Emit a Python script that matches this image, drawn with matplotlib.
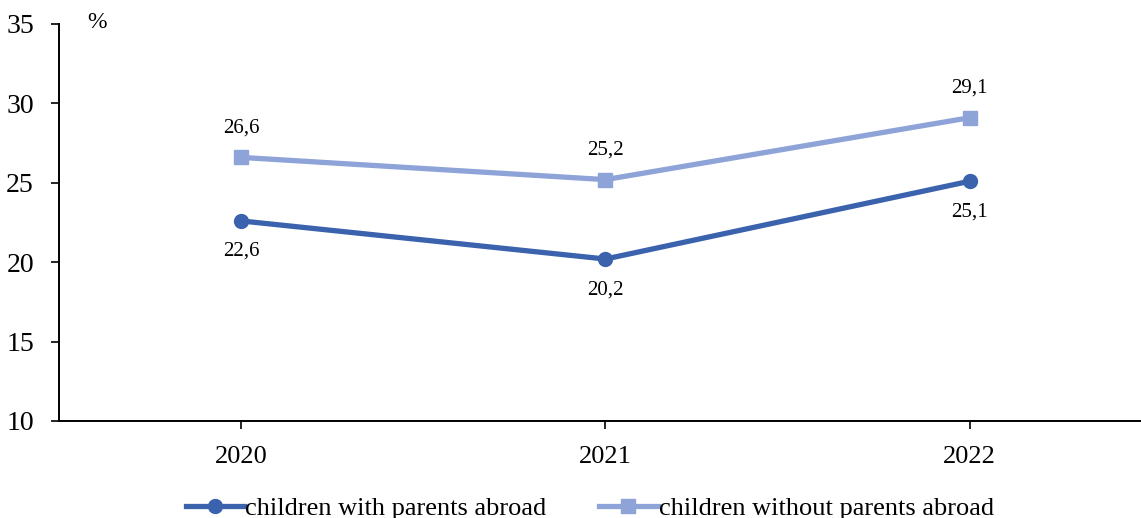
import matplotlib
matplotlib.use('Agg')
import matplotlib.pyplot as plt

# Datos del gráfico
years = ['2020', '2021', '2022']
with_parents_abroad = [22.6, 20.2, 25.1]
without_parents_abroad = [26.6, 25.2, 29.1]
labels_with = ['22,6', '20,2', '25,1']
labels_without = ['26,6', '25,2', '29,1']

plt.rcParams['font.family'] = ['Liberation Serif', 'DejaVu Serif']

dark = '#3A62AD'
light = '#8EA3D7'

fig = plt.figure(figsize=(11.41, 5.18), dpi=100)
ax = fig.add_axes([59 / 1141, 97 / 518, 1 - 59 / 1141, (421 - 24) / 518])

x = range(len(years))
ax.plot(x, with_parents_abroad, color=dark, linewidth=3.8, marker='o', markersize=10,
        label='children with parents abroad')
ax.plot(x, without_parents_abroad, color=light, linewidth=3.8, marker='s', markersize=10,
        label='children without parents abroad')

# Etiquetas de datos
for i in x:
    ax.annotate(labels_with[i], (i, with_parents_abroad[i]), xytext=(0, -22),
                textcoords='offset points', ha='center', va='center', fontsize=15)
    ax.annotate(labels_without[i], (i, without_parents_abroad[i]), xytext=(0, 21),
                textcoords='offset points', ha='center', va='center', fontsize=15)

ax.set_ylim(10, 35)
ax.set_yticks([10, 15, 20, 25, 30, 35])
ax.set_xlim(-0.5, 2.47)
ax.set_xticks(list(x))
ax.set_xticklabels(years)
ax.tick_params(axis='both', length=6, width=1.2, direction='out')
ax.tick_params(axis='x', pad=12, labelsize=19)
ax.tick_params(axis='y', pad=12, labelsize=20)

for side in ['top', 'right']:
    ax.spines[side].set_visible(False)
ax.spines['left'].set_linewidth(1.4)
ax.spines['bottom'].set_linewidth(1.4)

fig.text(97 / 1141, 1 - 22 / 518, '%', fontsize=17, ha='center', va='center')

fig.legend(loc='center', bbox_to_anchor=(590 / 1141, 10 / 518), ncol=2, frameon=False,
           fontsize=19, handlelength=2.2, handletextpad=0.05, columnspacing=2.0)

fig.savefig('out.png', dpi=100)
